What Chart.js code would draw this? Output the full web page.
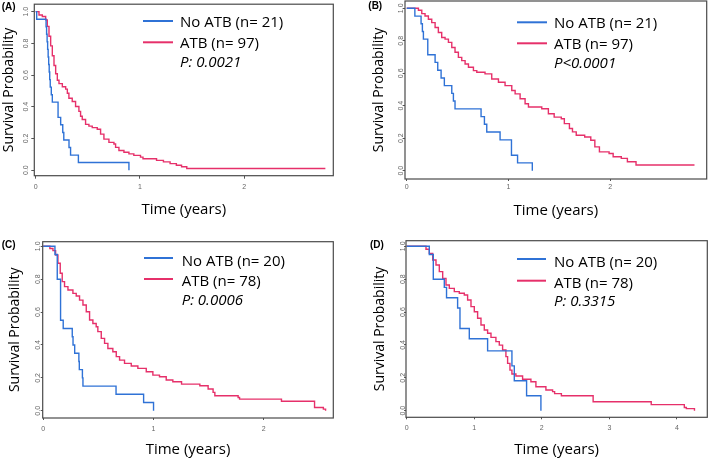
<!DOCTYPE html>
<html>
<head>
<meta charset="utf-8">
<script src="https://cdn.jsdelivr.net/npm/chart.js@4.4.1/dist/chart.umd.min.js"></script>
<style>
	body { margin: 0; background: #fff; width: 709px; height: 459px; position: relative; overflow: hidden; }
	canvas { position: absolute; }
</style>
</head>
<body>
<canvas id="gA" width="354" height="229" style="left:0;top:0"></canvas>
<canvas id="gB" width="354" height="229" style="left:355px;top:0"></canvas>
<canvas id="gC" width="354" height="230" style="left:0;top:229px"></canvas>
<canvas id="gD" width="354" height="230" style="left:355px;top:229px"></canvas>
<script>
const azul = "#2f72d6";
const rojo = "#e6306a";

// (A) No ATB (n= 21) / ATB (n= 97)
const tiempoA_no = [0, 0.01, 0.10, 0.105, 0.11, 0.115, 0.12, 0.125, 0.13, 0.135, 0.14, 0.15, 0.16, 0.215, 0.24, 0.26, 0.27, 0.32, 0.335, 0.41, 0.895];
const survA_no = [1, 0.952, 0.905, 0.857, 0.810, 0.762, 0.714, 0.667, 0.619, 0.571, 0.524, 0.476, 0.429, 0.333, 0.286, 0.238, 0.190, 0.143, 0.095, 0.048, 0];
const tiempoA_atb = [0, 0.032, 0.064, 0.096, 0.112, 0.128, 0.144, 0.160, 0.176, 0.192, 0.208, 0.224, 0.256, 0.288, 0.304, 0.319, 0.351, 0.383, 0.415, 0.431, 0.447, 0.479, 0.511, 0.543, 0.591, 0.623, 0.655, 0.703, 0.751, 0.767, 0.799, 0.847, 0.895, 0.942, 1.006, 1.03, 1.16, 1.226, 1.29, 1.35, 1.40, 1.45, 2.78];
const survA_atb = [1, 0.979, 0.969, 0.948, 0.907, 0.845, 0.784, 0.722, 0.660, 0.608, 0.567, 0.546, 0.526, 0.511, 0.485, 0.454, 0.433, 0.402, 0.371, 0.340, 0.320, 0.289, 0.278, 0.268, 0.258, 0.227, 0.196, 0.175, 0.165, 0.144, 0.124, 0.113, 0.103, 0.093, 0.082, 0.072, 0.062, 0.052, 0.041, 0.031, 0.021, 0.010, 0.010];

// (B) No ATB (n= 21) / ATB (n= 97)
const tiempoB_no = [0, 0.08, 0.141, 0.154, 0.164, 0.207, 0.279, 0.305, 0.338, 0.370, 0.443, 0.459, 0.475, 0.731, 0.764, 0.787, 0.918, 1.03, 1.09, 1.235];
const survB_no = [1, 0.952, 0.905, 0.857, 0.810, 0.714, 0.667, 0.619, 0.571, 0.524, 0.476, 0.429, 0.381, 0.333, 0.286, 0.238, 0.190, 0.095, 0.048, 0];
const tiempoB_atb = [0, 0.115, 0.148, 0.180, 0.213, 0.246, 0.279, 0.311, 0.344, 0.377, 0.410, 0.443, 0.475, 0.508, 0.541, 0.574, 0.607, 0.656, 0.689, 0.770, 0.836, 0.902, 0.967, 1.033, 1.066, 1.115, 1.164, 1.197, 1.328, 1.393, 1.45, 1.52, 1.55, 1.60, 1.63, 1.667, 1.75, 1.81, 1.85, 1.895, 1.99, 2.03, 2.11, 2.17, 2.255, 2.83];
const survB_atb = [1, 0.988, 0.967, 0.953, 0.933, 0.912, 0.882, 0.851, 0.820, 0.810, 0.790, 0.759, 0.729, 0.698, 0.678, 0.657, 0.637, 0.616, 0.606, 0.596, 0.565, 0.545, 0.524, 0.494, 0.473, 0.443, 0.412, 0.392, 0.382, 0.351, 0.330, 0.320, 0.290, 0.260, 0.239, 0.218, 0.208, 0.188, 0.147, 0.116, 0.106, 0.086, 0.076, 0.055, 0.035, 0.035];

// (C) No ATB (n= 20) / ATB (n= 78)
const tiempoC_no = [0, 0.106, 0.127, 0.157, 0.181, 0.263, 0.27, 0.285, 0.323, 0.327, 0.355, 0.36, 0.66, 0.91, 1.0];
const survC_no = [1, 0.95, 0.80, 0.55, 0.50, 0.45, 0.40, 0.35, 0.30, 0.25, 0.20, 0.15, 0.10, 0.05, 0];
const tiempoC_atb = [0, 0.06, 0.088, 0.112, 0.133, 0.154, 0.172, 0.193, 0.224, 0.269, 0.299, 0.329, 0.360, 0.390, 0.420, 0.450, 0.480, 0.495, 0.526, 0.556, 0.586, 0.631, 0.662, 0.692, 0.737, 0.798, 0.858, 0.934, 0.994, 1.054, 1.115, 1.175, 1.254, 1.42, 1.495, 1.54, 1.556, 1.767, 1.78, 2.16, 2.46, 2.54, 2.56];
const survC_atb = [1, 0.987, 0.974, 0.947, 0.897, 0.836, 0.785, 0.755, 0.734, 0.714, 0.698, 0.673, 0.643, 0.602, 0.552, 0.531, 0.511, 0.481, 0.440, 0.410, 0.379, 0.359, 0.329, 0.308, 0.288, 0.272, 0.258, 0.237, 0.217, 0.207, 0.187, 0.176, 0.162, 0.152, 0.132, 0.112, 0.091, 0.081, 0.071, 0.058, 0.020, 0.010, 0];

// (D) No ATB (n= 20) / ATB (n= 78)
const tiempoD_no = [0, 0.335, 0.394, 0.557, 0.59, 0.754, 0.789, 0.927, 1.198, 1.558, 1.593, 1.775, 1.987];
const survD_no = [1, 0.95, 0.80, 0.75, 0.6875, 0.625, 0.50, 0.4375, 0.364, 0.273, 0.182, 0.091, 0];
const tiempoD_atb = [0, 0.286, 0.335, 0.385, 0.434, 0.483, 0.533, 0.582, 0.631, 0.705, 0.779, 0.853, 0.902, 0.952, 1.001, 1.050, 1.100, 1.149, 1.198, 1.248, 1.321, 1.371, 1.420, 1.469, 1.494, 1.529, 1.558, 1.617, 1.716, 1.839, 1.913, 2.061, 2.16, 2.19, 2.29, 2.76, 3.62, 4.11, 4.14, 4.26];
const survD_atb = [1, 0.982, 0.957, 0.917, 0.886, 0.846, 0.805, 0.765, 0.744, 0.724, 0.714, 0.704, 0.673, 0.633, 0.602, 0.562, 0.521, 0.491, 0.471, 0.446, 0.420, 0.399, 0.369, 0.329, 0.288, 0.247, 0.223, 0.211, 0.191, 0.176, 0.146, 0.126, 0.116, 0.104, 0.091, 0.055, 0.037, 0.020, 0.013, 0];

// ticks y textos
const ticksY = [0, 0.2, 0.4, 0.6, 0.8, 1.0];
const ticksX3 = [0, 1, 2];
const ticksX5 = [0, 1, 2, 3, 4];
const letras = ["(A)", "(B)", "(C)", "(D)"];
const nombresAB = ["No ATB (n= 21)", "ATB (n= 97)"];
const nombresCD = ["No ATB (n= 20)", "ATB (n= 78)"];
const valoresP = ["P: 0.0021", "P<0.0001", "P: 0.0006", "P: 0.3315"];

const fuenteTicks = "'Liberation Sans', Arial, sans-serif";
const fuenteTexto = "'Open Sans', sans-serif";

const puntos = (t, s) => t.map((v, i) => ({ x: v, y: s[i] }));

// Marco completo alrededor del área del gráfico
const marco = {
	id: "marco",
	afterDraw(chart) {
		const { ctx, chartArea: a } = chart;
		ctx.save();
		ctx.strokeStyle = "#4a4a4a";
		ctx.lineWidth = 1.2;
		ctx.strokeRect(a.left, a.top, a.right - a.left, a.bottom - a.top);
		ctx.restore();
	},
};

// Leyenda dentro del gráfico + letra del panel
const leyenda = {
	id: "leyenda",
	afterDraw(chart, args, o) {
		const ctx = chart.ctx;
		ctx.save();
		ctx.textBaseline = "alphabetic";
		ctx.fillStyle = "#000";
		ctx.font = "bold 10px " + fuenteTicks;
		ctx.fillText(o.letra, o.letraX, o.letraY);

		ctx.font = "15px " + fuenteTexto;
		chart.data.datasets.forEach((ds, i) => {
			ctx.strokeStyle = ds.borderColor;
			ctx.lineWidth = 2;
			ctx.beginPath();
			ctx.moveTo(o.x, o.lineas[i]);
			ctx.lineTo(o.x + o.largo, o.lineas[i]);
			ctx.stroke();
			ctx.fillStyle = "#000";
			ctx.fillText(ds.label, o.textoX, o.bases[i]);
		});
		ctx.font = "italic 15px " + fuenteTexto;
		ctx.fillText(o.p, o.textoX, o.bases[2]);
		ctx.restore();
	},
};

/**
 * Crea un panel Kaplan-Meier
 * @param {*} id canvas
 * @param {*} g geometría y datos del panel
 */
const panel = (id, g) => {
	const ctx = document.getElementById(id);
	const marcas = { display: true, drawOnChartArea: false, drawTicks: true, tickLength: g.marca, color: "#555", lineWidth: 1 };
	return new Chart(ctx, {
		type: "line",
		data: {
			datasets: [
				{
					label: g.nombres[0],
					data: puntos(g.t0, g.s0),
					borderColor: azul,
					borderWidth: 1.4,
					stepped: true,
					pointRadius: 0,
					fill: false,
				},
				{
					label: g.nombres[1],
					data: puntos(g.t1, g.s1),
					borderColor: rojo,
					borderWidth: 1.4,
					stepped: true,
					pointRadius: 0,
					fill: false,
				},
			],
		},
		options: {
			responsive: false,
			animation: false,
			devicePixelRatio: 1,
			layout: { padding: { top: g.arriba, right: g.derecha, left: 0, bottom: 0 } },
			plugins: {
				legend: { display: false },
				tooltip: { enabled: false },
				leyenda: g.leyenda,
			},
			scales: {
				x: {
					type: "linear",
					min: g.xMin,
					max: g.xMax,
					afterBuildTicks: (s) => { s.ticks = g.ticksX.map((v) => ({ value: v })); },
					afterFit: (s) => { s.height = g.altoX; },
					grid: marcas,
					border: { display: false },
					ticks: {
						font: { size: 7, family: fuenteTicks },
						color: "#666",
						padding: g.padX,
						maxRotation: 0,
						autoSkip: false,
						callback: (v) => String(v),
					},
					title: {
						display: true,
						text: "Time (years)",
						font: { size: 15, family: fuenteTexto },
						color: "#000",
						padding: { top: 0, bottom: g.padTituloX },
					},
				},
				y: {
					type: "linear",
					min: g.yMin,
					max: g.yMax,
					afterBuildTicks: (s) => { s.ticks = ticksY.map((v) => ({ value: v })); },
					afterFit: (s) => { s.width = g.anchoY; },
					grid: marcas,
					border: { display: false },
					ticks: {
						font: { size: 7, family: fuenteTicks },
						color: "#666",
						padding: g.padY,
						minRotation: 90,
						maxRotation: 90,
						crossAlign: "center",
						autoSkip: false,
						callback: (v) => v.toFixed(1),
					},
					title: {
						display: true,
						text: "Survival Probability",
						font: { size: 14, family: fuenteTexto },
						color: "#000",
						padding: { top: g.padTituloY, bottom: 0 },
					},
				},
			},
		},
		plugins: [marco, leyenda],
	});
};

panel("gA", {
	nombres: nombresAB, t0: tiempoA_no, s0: survA_no, t1: tiempoA_atb, s1: survA_atb,
	xMin: -0.013, xMax: 2.856, yMin: -0.035, yMax: 1.047, ticksX: ticksX3,
	arriba: 0.7, derecha: 20.7, anchoY: 34.3, altoX: 53.3, marca: 3,
	padX: 4, padTituloX: 10, padY: 0, padTituloY: 0.4,
	leyenda: { letra: letras[0], letraX: 1.7, letraY: 9.6, x: 143, largo: 30, textoX: 180, lineas: [21, 42.3], bases: [26.7, 47.6, 67], p: valoresP[0] },
});

panel("gB", {
	nombres: nombresAB, t0: tiempoB_no, s0: survB_no, t1: tiempoB_atb, s1: survB_atb,
	xMin: -0.017, xMax: 2.95, yMin: -0.051, yMax: 1.045, ticksX: ticksX3,
	arriba: 0.5, derecha: 2.3, anchoY: 50, altoX: 50, marca: 2,
	padX: 2, padTituloX: 9.7, padY: -3.2, padTituloY: 15.3,
	leyenda: { letra: letras[1], letraX: 13.3, letraY: 8.6, x: 162, largo: 30, textoX: 199, lineas: [22.3, 43.3], bases: [28.3, 49.3, 68.3], p: valoresP[1] },
});

panel("gC", {
	nombres: nombresCD, t0: tiempoC_no, s0: survC_no, t1: tiempoC_atb, s1: survC_atb,
	xMin: -0.005, xMax: 2.63, yMin: -0.044, yMax: 1.028, ticksX: ticksX3,
	arriba: 12.7, derecha: 20.7, anchoY: 42.7, altoX: 41, marca: 2,
	padX: 4.8, padTituloX: 0.7, padY: -2.5, padTituloY: 6.6,
	leyenda: { letra: letras[2], letraX: 1.7, letraY: 18.6, x: 144, largo: 29, textoX: 181.7, lineas: [29, 50], bases: [36.7, 57.3, 76], p: valoresP[2] },
});

panel("gD", {
	nombres: nombresCD, t0: tiempoD_no, s0: survD_no, t1: tiempoD_atb, s1: survD_atb,
	xMin: -0.01, xMax: 4.45, yMin: -0.040, yMax: 1.034, ticksX: ticksX5,
	arriba: 11.7, derecha: 1.7, anchoY: 51, altoX: 41.7, marca: 2,
	padX: 4.5, padTituloX: 0, padY: -3.9, padTituloY: 16.6,
	leyenda: { letra: letras[3], letraX: 15, letraY: 19, x: 162, largo: 29, textoX: 199, lineas: [30, 51.7], bases: [37.7, 59, 77.3], p: valoresP[3] },
});
</script>
</body>
</html>
